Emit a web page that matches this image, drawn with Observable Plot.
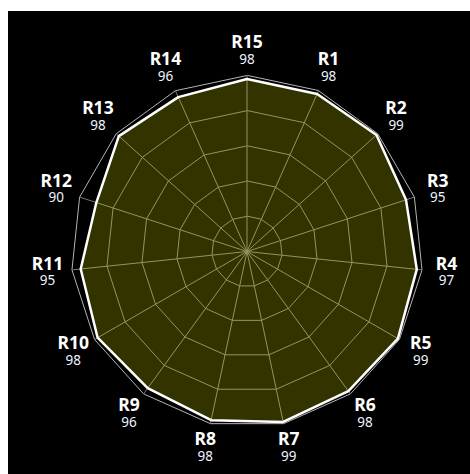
<!DOCTYPE html>
<html><head><meta charset="utf-8">
<script src="https://cdn.jsdelivr.net/npm/d3@7"></script>
<script src="https://cdn.jsdelivr.net/npm/@observablehq/plot@0.6"></script>
<style>
html,body{margin:0;padding:0;background:#fff;}
#chart{position:absolute;left:8px;top:11px;width:462px;height:463px;background:#000;overflow:hidden;}
</style></head><body><div id="chart"></div>
<script>
const categories = ["R1","R2","R3","R4","R5","R6","R7","R8","R9","R10","R11","R12","R13","R14","R15"];
const values = [98,99,95,97,99,98,99,98,96,98,95,90,98,96,98];
const gridLevels = [20,40,60,80];
const maxValue = 100;
const labelRadius = 114;

const n = categories.length;
const angle = i => 2*Math.PI*(i+1)/n;
const px = (r,i) => r*Math.sin(angle(i));
const py = (r,i) => r*Math.cos(angle(i));

const ringPts = gridLevels.flatMap(level => categories.map((c,i) => ({level, i})));
const outerPts = categories.map((c,i) => ({i}));

const chart = Plot.plot({
  width: 462, height: 463, margin: 0,
  x: {domain: [-135.51, 126.99], axis: null},
  y: {domain: [-126.7, 136.36], axis: null},
  style: {background: "transparent", fontFamily: "'Noto Sans', 'Open Sans', sans-serif"},
  marks: [
    Plot.line(outerPts, {x: d => px(maxValue, d.i), y: d => py(maxValue, d.i), curve: "linear-closed", stroke: "#b4b4b4", strokeWidth: 1}),
    Plot.line(ringPts, {x: d => px(d.level, d.i), y: d => py(d.level, d.i), z: "level", curve: "linear-closed", stroke: "#7a7a7a", strokeWidth: 1}),
    Plot.link(categories, {x1: 0, y1: 0, x2: (d,i) => px(maxValue, i), y2: (d,i) => py(maxValue, i), stroke: "#7a7a7a", strokeWidth: 1}),
    Plot.line(values, {x: (d,i) => px(d, i), y: (d,i) => py(d, i), curve: "linear-closed", fill: "#ffff00", fillOpacity: 0.2, stroke: "white", strokeWidth: 2.5, strokeLinejoin: "miter"}),
    Plot.text(categories, {x: (d,i) => px(labelRadius, i), y: (d,i) => py(labelRadius, i), text: d => d, dy: -8, fontSize: 17.5, fontWeight: "bold", fill: "white", lineHeight: 0.9}),
    Plot.text(values, {x: (d,i) => px(labelRadius, i), y: (d,i) => py(labelRadius, i), text: d => String(d), dy: 9, fontSize: 13.5, fill: "#eef4ff", lineHeight: 0.9})
  ]
});
document.getElementById("chart").appendChild(chart);
</script></body></html>
